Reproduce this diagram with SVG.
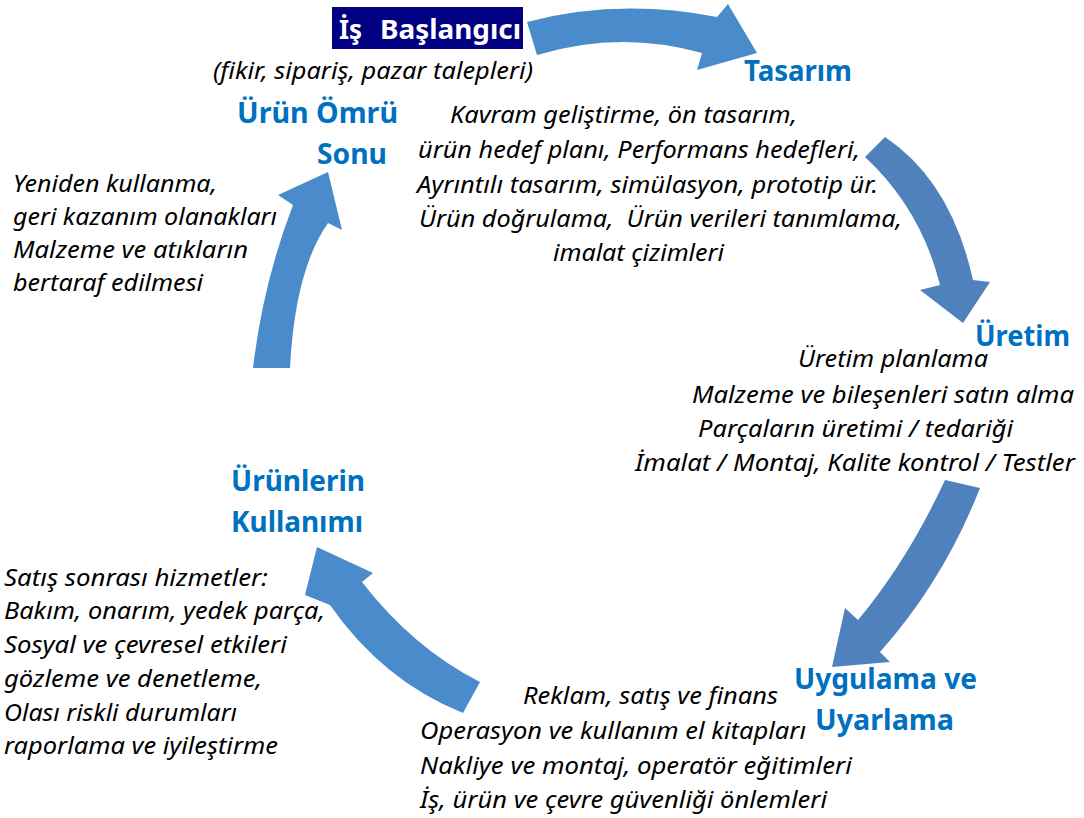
<svg xmlns="http://www.w3.org/2000/svg" width="1084" height="818" viewBox="0 0 1084 818">
<style>
.b{font-family:"Noto Sans","Open Sans","Liberation Sans",sans-serif;font-style:italic;font-size:24px;fill:#000}
.h{font-family:"Noto Sans","Open Sans","Liberation Sans",sans-serif;font-weight:bold;font-size:28px;fill:#0070C0}
.t{font-family:"Noto Sans","Open Sans","Liberation Sans",sans-serif;font-weight:bold;font-size:26px;fill:#fff}
.a1{fill:#4A8CCB}
.a2{fill:#4F81BD}
</style>
<rect width="1084" height="818" fill="#fff"/>
<g id="connectors">
<path class="a1" d="M527,22 Q618,-2 717,17 L728,4 L757,53 L697,70 L702,53 Q620,30 537,55 Z"/>
<path class="a2" d="M885,137 Q951,181 973,280 L990,282 L963,323 L920,290 L940,285 Q921,209 865,157 Z"/>
<path class="a2" d="M980,488 Q944,580 880,652 L890,662 L832,667 L845,608 L858,620 Q908,560 945,480 Z"/>
<path class="a1" d="M463,713 Q383,681 330,605 L305,595 L317,547 L373,573 L362,582 Q413,648 480,682 Z"/>
<path class="a1" d="M253,368 Q263,283 293,205 L278,195 L328,172 L342,230 L328,223 Q295,270 290,368 Z"/>
</g>
<g id="is-baslangici">
<rect x="332" y="7" width="191" height="42" fill="#000080"/>
<text class="t" x="339" y="39">İş <tspan x="380" textLength="141" lengthAdjust="spacingAndGlyphs">Başlangıcı</tspan></text>
<text class="b" x="213" y="79" textLength="320" lengthAdjust="spacingAndGlyphs">(fikir, sipariş, pazar talepleri)</text>
</g>
<g id="tasarim">
<text class="h" x="744" y="81" textLength="108" lengthAdjust="spacingAndGlyphs">Tasarım</text>
<text class="b" x="450" y="123" textLength="347" lengthAdjust="spacingAndGlyphs">Kavram geliştirme, ön tasarım,</text>
<text class="b" x="418" y="158" textLength="442" lengthAdjust="spacingAndGlyphs">ürün hedef planı, Performans hedefleri,</text>
<text class="b" x="417" y="193" textLength="461" lengthAdjust="spacingAndGlyphs">Ayrıntılı tasarım, simülasyon, prototip ür.</text>
<text class="b" x="419" y="227" textLength="483" lengthAdjust="spacingAndGlyphs" xml:space="preserve">Ürün doğrulama,  Ürün verileri tanımlama,</text>
<text class="b" x="553" y="261" textLength="171" lengthAdjust="spacingAndGlyphs">imalat çizimleri</text>
</g>
<g id="urun-omru-sonu">
<text class="h" x="237" y="123" textLength="161" lengthAdjust="spacingAndGlyphs">Ürün Ömrü</text>
<text class="h" x="317" y="164" textLength="70" lengthAdjust="spacingAndGlyphs">Sonu</text>
<text class="b" x="13" y="192" textLength="204" lengthAdjust="spacingAndGlyphs">Yeniden kullanma,</text>
<text class="b" x="13" y="225" textLength="264" lengthAdjust="spacingAndGlyphs">geri kazanım olanakları</text>
<text class="b" x="13" y="258" textLength="235" lengthAdjust="spacingAndGlyphs">Malzeme ve atıkların</text>
<text class="b" x="13" y="291" textLength="190" lengthAdjust="spacingAndGlyphs">bertaraf edilmesi</text>
</g>
<g id="uretim">
<text class="h" x="975" y="346" textLength="95" lengthAdjust="spacingAndGlyphs">Üretim</text>
<text class="b" x="798" y="367" textLength="190" lengthAdjust="spacingAndGlyphs">Üretim planlama</text>
<text class="b" x="692" y="403" textLength="382" lengthAdjust="spacingAndGlyphs">Malzeme ve bileşenleri satın alma</text>
<text class="b" x="698" y="437" textLength="315" lengthAdjust="spacingAndGlyphs">Parçaların üretimi / tedariği</text>
<text class="b" x="635" y="471" textLength="440" lengthAdjust="spacingAndGlyphs">İmalat / Montaj, Kalite kontrol / Testler</text>
</g>
<g id="urunlerin-kullanimi">
<text class="h" x="231" y="491" textLength="134" lengthAdjust="spacingAndGlyphs">Ürünlerin</text>
<text class="h" x="231" y="532" textLength="132" lengthAdjust="spacingAndGlyphs">Kullanımı</text>
<text class="b" x="4" y="586" textLength="264" lengthAdjust="spacingAndGlyphs">Satış sonrası hizmetler:</text>
<text class="b" x="4" y="619" textLength="321" lengthAdjust="spacingAndGlyphs">Bakım, onarım, yedek parça,</text>
<text class="b" x="4" y="653" textLength="283" lengthAdjust="spacingAndGlyphs">Sosyal ve çevresel etkileri</text>
<text class="b" x="4" y="687" textLength="258" lengthAdjust="spacingAndGlyphs">gözleme ve denetleme,</text>
<text class="b" x="4" y="721" textLength="233" lengthAdjust="spacingAndGlyphs">Olası riskli durumları</text>
<text class="b" x="4" y="754" textLength="274" lengthAdjust="spacingAndGlyphs">raporlama ve iyileştirme</text>
</g>
<g id="uygulama-ve-uyarlama">
<text class="h" x="794" y="689" textLength="183" lengthAdjust="spacingAndGlyphs">Uygulama ve</text>
<text class="h" x="815" y="730" textLength="139" lengthAdjust="spacingAndGlyphs">Uyarlama</text>
<text class="b" x="523" y="704" textLength="255" lengthAdjust="spacingAndGlyphs">Reklam, satış ve finans</text>
<text class="b" x="420" y="739" textLength="386" lengthAdjust="spacingAndGlyphs">Operasyon ve kullanım el kitapları</text>
<text class="b" x="420" y="774" textLength="432" lengthAdjust="spacingAndGlyphs">Nakliye ve montaj, operatör eğitimleri</text>
<text class="b" x="420" y="808" textLength="407" lengthAdjust="spacingAndGlyphs">İş, ürün ve çevre güvenliği önlemleri</text>
</g>
</svg>
